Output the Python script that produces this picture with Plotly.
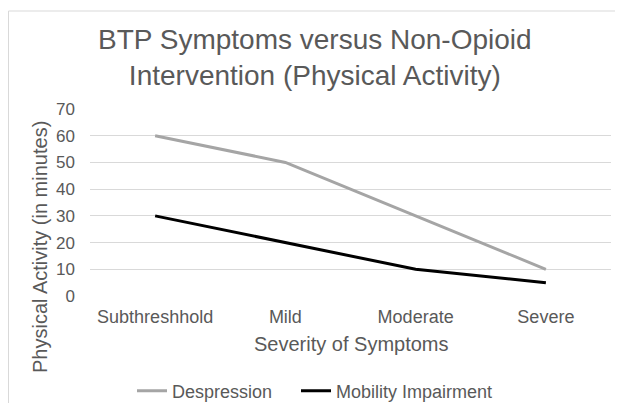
import plotly.graph_objects as go

categories = ["Subthreshhold", "Mild", "Moderate", "Severe"]
depression = [60, 50, 30, 10]
mobility = [30, 20, 10, 5]
y_ticks = [0, 10, 20, 30, 40, 50, 60, 70]

FONT = "Liberation Sans, Arial, sans-serif"
TXT = "#595959"

# the page body adds an 8px margin; the figure is sized to fill the window exactly
OFF = 8
W, H = 623 - 2 * OFF, 411 - 2 * OFF
PL, PR, PT, PB = 90, 611, 109, 296   # plot area in window pixels
L, R, T, B = PL - OFF, W - (PR - OFF), PT - OFF, H - (PB - OFF)
pw, ph = W - L - R, H - T - B

def px_x(px):
    return (px - OFF - L) / pw

def px_y(py):
    return (H - B - (py - OFF)) / ph

fig = go.Figure()
fig.add_trace(go.Scatter(x=categories, y=depression, mode="lines", name="Despression",
                         line=dict(color="#A5A5A5", width=3), legend="legend"))
fig.add_trace(go.Scatter(x=categories, y=mobility, mode="lines", name="Mobility Impairment",
                         line=dict(color="#000000", width=3), legend="legend2"))

leg_common = dict(orientation="h", xanchor="left", yanchor="middle",
                  font=dict(size=18, color=TXT), itemwidth=30, bgcolor="rgba(0,0,0,0)")

fig.update_layout(
    width=W, height=H,
    margin=dict(l=L, r=R, t=T, b=B, autoexpand=False),
    paper_bgcolor="white", plot_bgcolor="white",
    font=dict(family=FONT, color=TXT, size=16),
    showlegend=True,
    legend=dict(x=px_x(132), y=px_y(391), **leg_common),
    legend2=dict(x=px_x(296), y=px_y(391), **leg_common),
    xaxis=dict(type="category", range=[-0.5, 3.5], showgrid=False, showline=False,
               zeroline=False, ticks="", tickfont=dict(size=18, color=TXT),
               ticklabelstandoff=8),
    yaxis=dict(range=[0, 70], tickvals=y_ticks, showgrid=True, gridcolor="#D9D9D9",
               gridwidth=1, zeroline=False, showline=False, ticks="",
               tickfont=dict(size=17, color=TXT), ticklabelstandoff=14),
    shapes=[dict(type="rect", xref="paper", yref="paper",
                 x0=px_x(8.5), x1=px_x(800), y0=px_y(800), y1=px_y(11),
                 line=dict(color="#D9D9D9", width=1), fillcolor="rgba(0,0,0,0)", layer="below")],
    annotations=[
        dict(text="BTP Symptoms versus Non-Opioid<br>Intervention (Physical Activity)",
             xref="paper", yref="paper", x=px_x(315), y=px_y(57), xanchor="center",
             yanchor="middle", showarrow=False, font=dict(size=28, color=TXT)),
        dict(text="Severity of Symptoms", xref="paper", yref="paper",
             x=px_x(351), y=px_y(344), xanchor="center", yanchor="middle",
             showarrow=False, font=dict(size=20, color=TXT)),
        dict(text="Physical Activity (in minutes)", xref="paper", yref="paper",
             x=px_x(40), y=px_y(247), xanchor="center", yanchor="middle", textangle=-90,
             showarrow=False, font=dict(size=20, color=TXT)),
    ],
)

fig.write_html("out.html")
